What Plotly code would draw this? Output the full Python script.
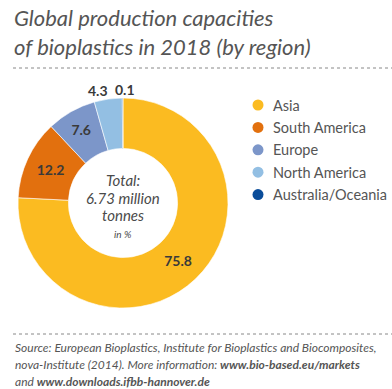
import math
import plotly.graph_objects as go

# Regional shares of global bioplastics production capacity, 2018 (in %)
regions = ["Asia", "South America", "Europe", "North America", "Australia/Oceania"]
shares = [75.8, 12.2, 7.6, 4.3, 0.1]
colors = ["#FBBB21", "#E2700E", "#7C96C9", "#93BFE3", "#0B4D9A"]
# slices whose value sits outside the ring
outside = [False, False, False, True, True]

W, H = 392, 389
CX, CY, R = 123, 203, 105  # donut centre and radius in pixels
TEXT = "#4a4a4a"
FONT = "Lato"


def px(x):
    return x / W


def py(y):
    return 1 - y / H


fig = go.Figure()

fig.add_trace(go.Pie(
    labels=regions,
    values=shares,
    sort=False,
    direction="clockwise",
    rotation=0,
    hole=0.52,
    marker=dict(colors=colors, line=dict(color="white", width=0.6)),
    texttemplate="%{value:.1f}",
    textposition=["none" if o else "inside" for o in outside],
    insidetextorientation="horizontal",
    insidetextfont=dict(family=FONT, size=14, color="#3a3a3a", weight="bold"),
    domain=dict(x=[px(CX - R), px(CX + R)], y=[py(CY + R), py(CY - R)]),
    showlegend=False,
    hoverinfo="label+value",
))

annotations = []

# values for the thin slices, placed just beyond the ring at the slice's mid angle
cum = 0.0
total = sum(shares)
for name, v, o in zip(regions, shares, outside):
    mid = (cum + v / 2) / total
    cum += v
    if not o:
        continue
    th = 2 * math.pi * mid
    r_lab = R + 9
    x = CX + r_lab * math.sin(th)
    y = CY - r_lab * math.cos(th)
    anchor = "right" if math.sin(th) < -0.1 else "center"
    annotations.append(dict(
        x=px(x + (3 if anchor == "right" else 2)), y=py(y), xref="paper", yref="paper",
        text=f"{v:.1f}", showarrow=False, xanchor=anchor, yanchor="middle",
        font=dict(family=FONT, size=14, color="#3a3a3a", weight="bold"),
    ))

# centre caption
for txt, y, size in [("Total:", 180, 15), ("6.73 million", 198, 15),
                     ("tonnes", 215, 15), ("in %", 234, 10)]:
    annotations.append(dict(
        x=px(CX), y=py(y), xref="paper", yref="paper", text=f"<i>{txt}</i>",
        showarrow=False, xanchor="center", yanchor="middle",
        font=dict(family=FONT, size=size, color=TEXT),
    ))

# title
annotations.append(dict(
    x=px(12), y=py(2), xref="paper", yref="paper",
    text="<i>Global production capacities<br>of bioplastics in 2018 (by region)</i>",
    showarrow=False, xanchor="left", yanchor="top", align="left",
    font=dict(family=FONT, size=22, color="#555555"),
))

# source note, one line at a time
source_lines = [
    "<i>Source: European Bioplastics, Institute for Bioplastics and Biocomposites,</i>",
    "<i>nova-Institute (2014). More information: <b>www.bio-based.eu/markets</b></i>",
    "<i>and <b>www.downloads.ifbb-hannover.de</b></i>",
]
for i, line in enumerate(source_lines):
    annotations.append(dict(
        x=px(13), y=py(347 + i * 17), xref="paper", yref="paper",
        text=line, showarrow=False, xanchor="left", yanchor="middle", align="left",
        font=dict(family=FONT, size=12, color="#555555"),
    ))

shapes = []

# legend with round markers
for i, (name, col) in enumerate(zip(regions, colors)):
    y = 105 + i * 22.4
    shapes.append(dict(
        type="circle", xref="paper", yref="paper",
        x0=px(252.5), x1=px(263.5), y0=py(y + 5.5), y1=py(y - 5.5),
        fillcolor=col, line=dict(width=0),
    ))
    annotations.append(dict(
        x=px(271), y=py(y), xref="paper", yref="paper", text=name,
        showarrow=False, xanchor="left", yanchor="middle",
        font=dict(family=FONT, size=14.5, color="#555555"),
    ))

# dotted rules under the title and above the source
for y in (68, 334):
    shapes.append(dict(
        type="line", xref="paper", yref="paper",
        x0=px(13), x1=px(392), y0=py(y), y1=py(y),
        line=dict(color="#888888", width=1, dash="dot"),
    ))

fig.update_layout(
    width=W, height=H,
    margin=dict(l=0, r=0, t=0, b=0),
    paper_bgcolor="white",
    plot_bgcolor="white",
    annotations=annotations,
    shapes=shapes,
    showlegend=False,
)

fig.write_html("out.html")
